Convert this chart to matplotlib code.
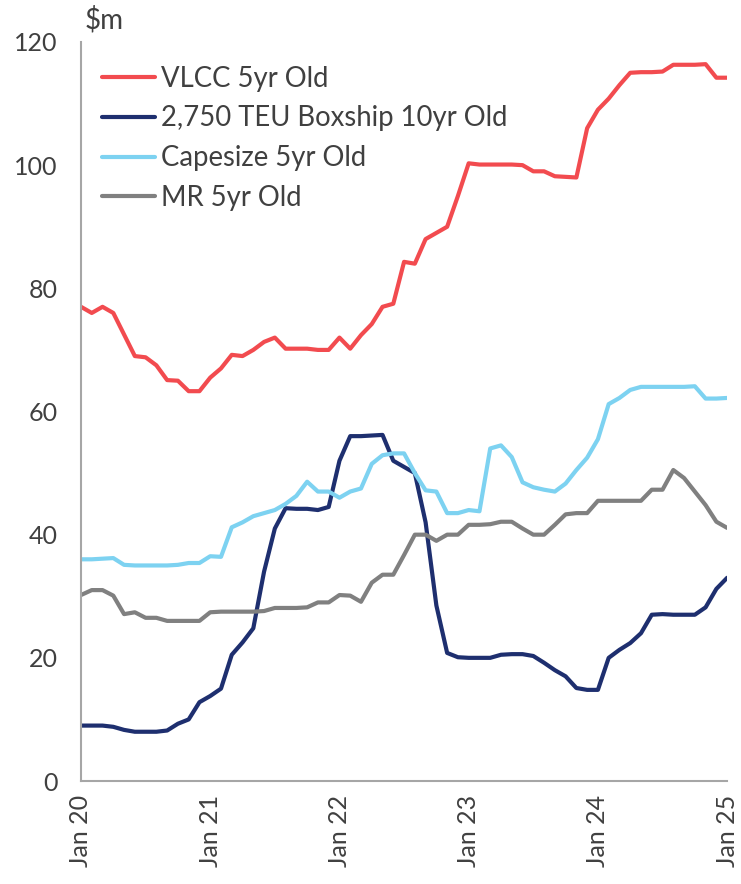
import matplotlib.pyplot as plt
import numpy as np

plt.rcParams['font.family'] = ['Lato', 'DejaVu Sans']

# monthly values, Jan 2020 .. Jan 2025 ($m)
vlcc = [77, 76, 77, 76, 72.5, 69, 68.8, 67.5, 65.1, 65, 63.3, 63.3,
        65.5, 67, 69.2, 69, 70, 71.3, 72, 70.2, 70.2, 70.2, 70, 70,
        72, 70.2, 72.4, 74.2, 77, 77.5, 84.3, 84, 88, 89, 90, 95,
        100.3, 100.1, 100.1, 100.1, 100.1, 100, 99, 99, 98.2, 98.1, 98, 106,
        109, 110.8, 113, 115, 115.1, 115.1, 115.2, 116.3, 116.3, 116.3, 116.4, 114.2,
        114.2]
boxship = [9, 9, 9, 8.8, 8.3, 8, 8, 8, 8.2, 9.3, 10, 12.8,
           13.8, 15, 20.5, 22.5, 24.8, 34, 41, 44.3, 44.2, 44.2, 44, 44.5,
           52, 56, 56, 56.1, 56.2, 52, 51, 50, 42, 28.5, 20.8, 20.1,
           20, 20, 20, 20.5, 20.6, 20.6, 20.3, 19.2, 18, 17, 15.1, 14.8,
           14.8, 20, 21.3, 22.4, 24, 27, 27.1, 27, 27, 27, 28.2, 31.2,
           33]
capesize = [36, 36, 36.1, 36.2, 35.1, 35, 35, 35, 35, 35.1, 35.4, 35.4,
            36.5, 36.4, 41.2, 42, 43, 43.5, 44, 45, 46.3, 48.6, 47, 47,
            46, 47, 47.5, 51.5, 52.9, 53.2, 53.2, 50, 47.2, 47, 43.5, 43.5,
            44, 43.8, 54, 54.5, 52.6, 48.5, 47.7, 47.3, 47, 48.3, 50.5, 52.5,
            55.5, 61.2, 62.2, 63.5, 64, 64, 64, 64, 64, 64.1, 62.1, 62.1,
            62.2]
mr = [30.2, 31, 31, 30.1, 27.1, 27.4, 26.5, 26.5, 26, 26, 26, 26,
      27.4, 27.5, 27.5, 27.5, 27.5, 27.6, 28.1, 28.1, 28.1, 28.2, 29, 29,
      30.2, 30.1, 29.1, 32.2, 33.5, 33.5, 36.7, 40, 40, 39, 40, 40,
      41.6, 41.6, 41.7, 42.1, 42.1, 41, 40, 40, 41.6, 43.3, 43.5, 43.5,
      45.5, 45.5, 45.5, 45.5, 45.5, 47.3, 47.3, 50.5, 49.2, 47, 44.8, 42.1,
      41.1]

series_names = ["VLCC 5yr Old", "2,750 TEU Boxship 10yr Old", "Capesize 5yr Old", "MR 5yr Old"]
tick_labels = ["Jan 20", "Jan 21", "Jan 22", "Jan 23", "Jan 24", "Jan 25"]

colors = ["#F24B4F", "#1E2F6F", "#7DD2F1", "#808080"]
months = np.arange(len(vlcc))

fig = plt.figure(figsize=(7.41, 8.84), dpi=100)
ax = fig.add_axes([0.1093, 0.1165, 0.872, 0.836])

for vals, name, c in zip([vlcc, boxship, capesize, mr], series_names, colors):
    ax.plot(months, vals, color=c, lw=3, label=name,
            solid_joinstyle="round", solid_capstyle="round")

ax.set_xlim(0, 60)
ax.set_ylim(0, 120)
ax.set_yticks(range(0, 121, 20))
ax.set_xticks(range(0, 61, 12))
ax.set_xticklabels(tick_labels, rotation=90)

txt = "#404040"
ax.tick_params(axis="both", length=0, labelsize=18, labelcolor=txt)
ax.tick_params(axis="y", pad=17)
ax.tick_params(axis="x", pad=10)
for s in ["top", "right"]:
    ax.spines[s].set_visible(False)
for s in ["left", "bottom"]:
    ax.spines[s].set_color("#A6A6A6")
    ax.spines[s].set_linewidth(1.5)

ax.text(0.005, 1.012, "$m", transform=ax.transAxes, fontsize=20, color=txt,
        ha="left", va="bottom")

leg = ax.legend(loc="upper left", bbox_to_anchor=(0.032, 0.968), frameon=False,
                fontsize=19.8, handlelength=1.95, handletextpad=0.2,
                labelspacing=0.5, borderpad=0, borderaxespad=0)
for t in leg.get_texts():
    t.set_color(txt)

fig.savefig("out.png", dpi=100)
